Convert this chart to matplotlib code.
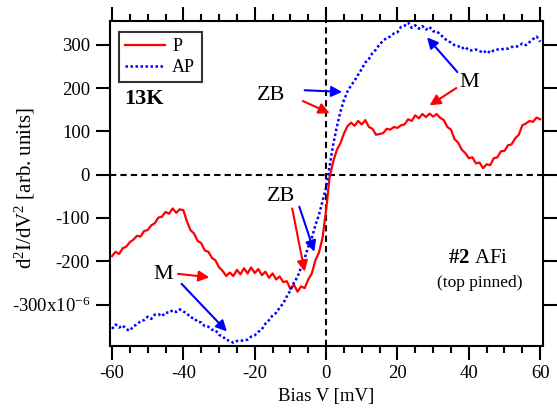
import numpy as np
import matplotlib
matplotlib.use("Agg")
import matplotlib.pyplot as plt
from matplotlib.ticker import MultipleLocator, FixedLocator

plt.rcParams['font.family'] = ['Liberation Serif', 'DejaVu Serif']
plt.rcParams['mathtext.fontset'] = 'custom'
plt.rcParams['mathtext.rm'] = 'Liberation Serif'
plt.rcParams['mathtext.it'] = 'Liberation Serif:italic'
plt.rcParams['mathtext.bf'] = 'Liberation Serif:bold'

bias = list(range(-60, 61))
p_vals = [-188, -178, -183, -170, -166, -156, -150, -141, -143, -130,
          -128, -117, -112, -99, -97, -86, -90, -78, -88, -80,
          -82, -108, -128, -136, -153, -158, -175, -178, -192, -198,
          -214, -222, -234, -226, -234, -220, -230, -216, -228, -214,
          -227, -218, -232, -224, -238, -228, -242, -235, -248, -246,
          -264, -254, -270, -258, -262, -242, -228, -198, -180, -146,
          -82, -5, 30, 57, 72, 95, 112, 120, 113, 124,
          116, 126, 110, 106, 92, 94, 96, 106, 104, 110,
          108, 114, 116, 128, 124, 137, 130, 140, 133, 141,
          134, 140, 131, 126, 110, 104, 82, 74, 58, 50,
          38, 40, 26, 28, 15, 24, 22, 38, 40, 54,
          55, 68, 70, 84, 92, 114, 118, 124, 122, 132,
          128]
ap_vals = [-356, -346, -353, -348, -357, -360, -350, -346, -338, -336,
           -328, -333, -323, -322, -327, -318, -319, -313, -317, -311,
           -316, -320, -330, -331, -340, -341, -350, -351, -358, -359,
           -370, -373, -382, -383, -388, -384, -384, -382, -381, -374,
           -371, -363, -357, -344, -336, -325, -319, -307, -297, -281,
           -267, -249, -236, -214, -193, -167, -146, -117, -93, -61,
           -30, 20, 70, 110, 145, 172, 192, 206, 217, 231,
           244, 259, 267, 281, 289, 301, 309, 316, 319, 326,
           329, 341, 344, 351, 339, 345, 337, 343, 335, 341,
           331, 331, 324, 316, 309, 305, 299, 297, 291, 295,
           287, 287, 289, 286, 281, 287, 281, 287, 289, 289,
           291, 291, 295, 295, 297, 303, 299, 306, 313, 319,
           307]
y_ticks = [300, 200, 100, 0, -100, -200, -300]
y_ticklabels = ['300', '200', '100', '0', '-100', '-200', '-300x10$^{-6}$']
x_ticks = [-60, -40, -20, 0, 20, 40, 60]

fig = plt.figure(figsize=(5.57, 4.19), dpi=100)
ax = fig.add_axes([0.1966, 0.1742, 0.7783, 0.7764])

ax.plot(bias, p_vals, color='#ff0000', lw=1.6, label='P')
ax.plot(bias, ap_vals, color='#0000ff', lw=1.8, linestyle=(0, (1, 1)), label='AP')

ax.axhline(0, color='black', lw=1.5, linestyle=(0, (3, 2)), zorder=0)
ax.axvline(0, color='black', lw=1.5, linestyle=(0, (3, 2)), zorder=0)

ax.set_xlim(-60.7, 60.8)
ax.set_ylim(-395.6, 355.5)

ax.xaxis.set_major_locator(FixedLocator(x_ticks))
ax.xaxis.set_minor_locator(MultipleLocator(5))
ax.yaxis.set_major_locator(FixedLocator(y_ticks))
ax.set_yticklabels(y_ticklabels)
ax.set_xticklabels([str(t) for t in x_ticks])

for s in ax.spines.values():
    s.set_linewidth(1.5)

ax.tick_params(axis='both', which='major', direction='out', length=10, width=1.5,
               labelsize=13.5, colors='black', pad=4)
ax.tick_params(axis='x', which='minor', direction='out', length=5, width=1.5,
               top=True, bottom=True)
ax.tick_params(axis='x', which='major', top=True, bottom=True)
ax.tick_params(axis='y', which='major', left=True, right=True)
ax.tick_params(axis='y', which='minor', left=False, right=False)

ax.set_xlabel('Bias V [mV]', fontsize=13.5, labelpad=4)
ax.set_ylabel('d$^2$I/dV$^2$ [arb. units]', fontsize=15)
ax.yaxis.set_label_coords(-0.167, 0.486)

leg = ax.legend(loc='upper left', bbox_to_anchor=(0.022, 0.965), borderaxespad=0,
                fontsize=13, frameon=True, fancybox=False, handlelength=2.2,
                handletextpad=0.4, borderpad=0.35, labelspacing=0.2)
leg.get_frame().set_edgecolor('black')
leg.get_frame().set_linewidth(1.5)

ax.text(-56.5, 175, '13K', fontsize=16, fontweight='bold', ha='left', va='center')
ax.text(-15.5, 183, 'ZB', fontsize=16, ha='center', va='center')
ax.text(-12.5, -50, 'ZB', fontsize=16, ha='center', va='center')
ax.text(40, 212, 'M', fontsize=16, ha='center', va='center')
ax.text(-45.5, -230, 'M', fontsize=16, ha='center', va='center')
ax.text(42.5, -193, r'$\mathbf{\#2}$ AFi', fontsize=15, ha='center', va='center')
ax.text(43, -250, '(top pinned)', fontsize=12.5, ha='center', va='center')

def arrow(x0, y0, x1, y1, color):
    ax.annotate('', xy=(x1, y1), xytext=(x0, y0),
                arrowprops=dict(arrowstyle='-|>', color=color, lw=1.5,
                                mutation_scale=16, shrinkA=0, shrinkB=0))

arrow(-6, 195, 4.5, 191, '#0000ff')
arrow(-6.5, 170, 1.0, 142, '#ff0000')
arrow(36.8, 237, 28.3, 317, '#0000ff')
arrow(36.5, 200, 29.0, 160, '#ff0000')
arrow(-9.5, -78, -6.0, -224, '#ff0000')
arrow(-7.5, -74, -3.3, -178, '#0000ff')
arrow(-41.5, -229, -32.7, -237, '#ff0000')
arrow(-40.5, -252, -27.8, -362, '#0000ff')

fig.savefig('out.png', dpi=100)
